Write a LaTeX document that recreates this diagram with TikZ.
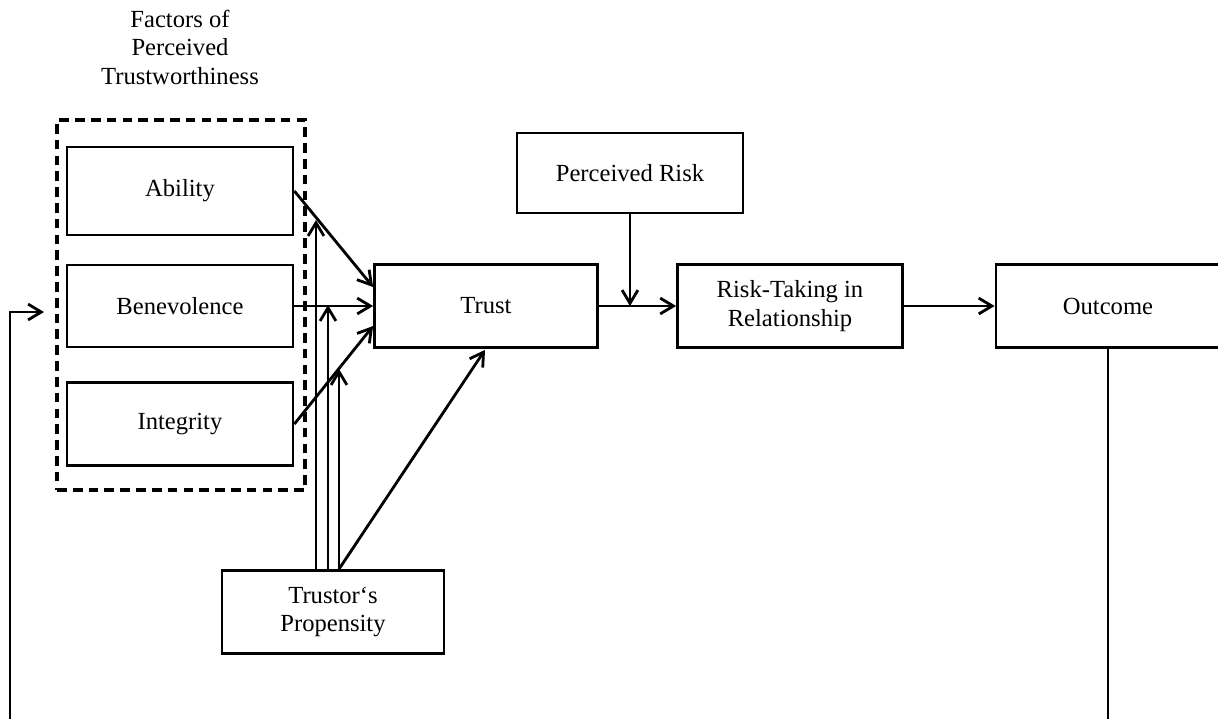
\documentclass[tikz,border=0pt]{standalone}
\usepackage{fontspec}
\setmainfont{Liberation Serif}
\usetikzlibrary{arrows.meta,calc}
\begin{document}
\begin{tikzpicture}[x=0.02cm,y=-0.02cm,
  font=\fontsize{14}{16.2}\selectfont,
  box/.style={draw,line width=1.6pt,inner sep=0pt,minimum width=4.5cm,minimum height=1.66cm,align=center},
  conn/.style={line width=1.6pt},
  arr/.style={conn,-{Straight Barb[length=7.5pt,width=9pt,line width=1.6pt]}}]
\useasboundingbox (0,0) rectangle (1218,718);
\clip (0,0) rectangle (1218,718);
\node[align=center] (title) at (180,47) {Factors of\\Perceived\\Trustworthiness};
\node[draw,line width=1.8pt,dash pattern=on 5.5pt off 3.5pt,minimum width=4.96cm,minimum height=7.4cm,inner sep=0pt] (group) at (181,305) {};
\node[box,minimum width=4.52cm,minimum height=1.76cm] (abil) at (180,191) {Ability};
\node[box,minimum width=4.52cm,minimum height=1.64cm] (bene) at (180,306) {Benevolence};
\node[box,minimum width=4.52cm] (integ) at (180,424) {Integrity};
\node[box,minimum width=4.46cm] (trust) at (486,306) {Trust};
\node[box,minimum width=4.52cm,minimum height=1.6cm] (risk) at (630,173) {Perceived Risk};
\node[box] (rtake) at (790,306) {Risk-Taking in\\Relationship};
\node[box,minimum width=4.48cm] (out) at (1108,306) {Outcome};
\node[box,minimum width=4.44cm] (prop) at (333,612) {Trustor‘s\\Propensity};
% factor arrows
\draw[arr] (abil.east) -- ($(trust.west)+(0,-19)$);
\draw[arr] (bene.east) -- (trust.west);
\draw[arr] (integ.east) -- ($(trust.west)+(0,20)$);
% propensity arrows
\coordinate (m1) at (316,220);
\coordinate (m2) at (328,305);
\coordinate (m3) at (339,369);
\draw[arr] (prop.north -| m1) -- (m1);
\draw[arr] (prop.north -| m2) -- (m2);
\draw[arr] (prop.north -| m3) -- (m3);
\draw[arr] (prop.north -| m3) -- ($(trust.south)+(-1,1)$);
% main chain
\draw[arr] (trust.east) -- (rtake.west);
\draw[arr] (risk.south) -- (risk.south |- trust.east);
\draw[arr] (rtake.east) -- (out.west);
% feedback
\coordinate (fb) at (44,312);
\draw[arr] (out.south) -- (1108,740) -| (10,312) -- (fb);
\end{tikzpicture}
\end{document}
